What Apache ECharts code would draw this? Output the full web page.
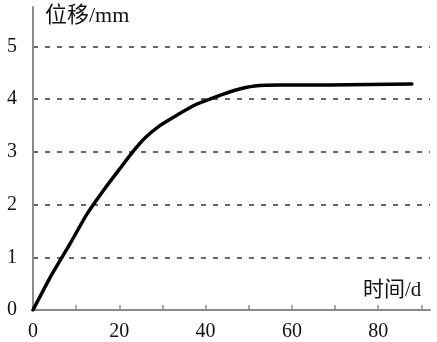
<!DOCTYPE html>
<html>
<head>
<meta charset="utf-8">
<script src="https://cdn.jsdelivr.net/npm/echarts@6/dist/echarts.min.js"></script>
<style>
  html, body { margin: 0; padding: 0; background: #fff; }
  #chart { width: 437px; height: 342px; }
</style>
</head>
<body>
<div id="chart"></div>
<script>
// 时间 (d) / 位移 (mm)
var days = [0, 4.4, 8.6, 12.5, 16.7, 20.2, 23.2, 26.0, 29.4, 33.4, 37.5, 42.2, 46.8, 51.4, 57.2, 68.8, 87.8];
var disp = [0, 0.68, 1.26, 1.82, 2.31, 2.69, 3.01, 3.27, 3.50, 3.70, 3.89, 4.04, 4.17, 4.25, 4.27, 4.27, 4.29];
var xLabels = [0, 20, 40, 60, 80];
var xTicks = [10, 20, 30, 40, 50, 60, 70, 80, 90];
var yLabels = [0, 1, 2, 3, 4, 5];

var serif = '"Liberation Serif", "Noto Sans CJK SC", serif';

var points = days.map(function (d, i) { return [d, disp[i]]; });

var option = {
    animation: false,
    grid: { left: 33, right: 7, top: 7, bottom: 29 },
    xAxis: {
        type: 'value',
        min: 0,
        max: 92,
        interval: 10,
        axisLine: { lineStyle: { color: '#8a8a8a', width: 2 } },
        axisTick: {
            show: true,
            inside: true,
            length: 5,
            customValues: xTicks,
            lineStyle: { color: '#8a8a8a', width: 1.5 }
        },
        axisLabel: {
            customValues: xLabels,
            margin: 12,
            color: '#111',
            fontSize: 20,
            fontFamily: serif
        },
        splitLine: { show: false }
    },
    yAxis: {
        type: 'value',
        min: 0,
        max: 5.75,
        interval: 1,
        axisLine: { show: true, lineStyle: { color: '#8a8a8a', width: 2 } },
        axisTick: { show: false },
        axisLabel: {
            customValues: yLabels,
            margin: 16,
            color: '#111',
            fontSize: 20,
            fontFamily: serif
        },
        splitLine: {
            show: true,
            showMinLine: false,
            showMaxLine: false,
            lineStyle: { color: '#666', width: 2, type: [5, 7] }
        }
    },
    graphic: [
        {
            type: 'text', left: 45, top: 5,
            style: { text: '位移/mm', fontSize: 22, fontFamily: serif, fill: '#111' }
        },
        {
            type: 'text', left: 363, top: 280,
            style: { text: '时间/d', fontSize: 21, fontFamily: serif, fill: '#111' }
        }
    ],
    series: [
        {
            type: 'line',
            data: points,
            smooth: 0.2,
            showSymbol: false,
            lineStyle: { color: '#000', width: 3.5, join: 'round', cap: 'round' }
        }
    ]
};

var myChart = echarts.init(document.getElementById('chart'));
myChart.setOption(option);
</script>
</body>
</html>
